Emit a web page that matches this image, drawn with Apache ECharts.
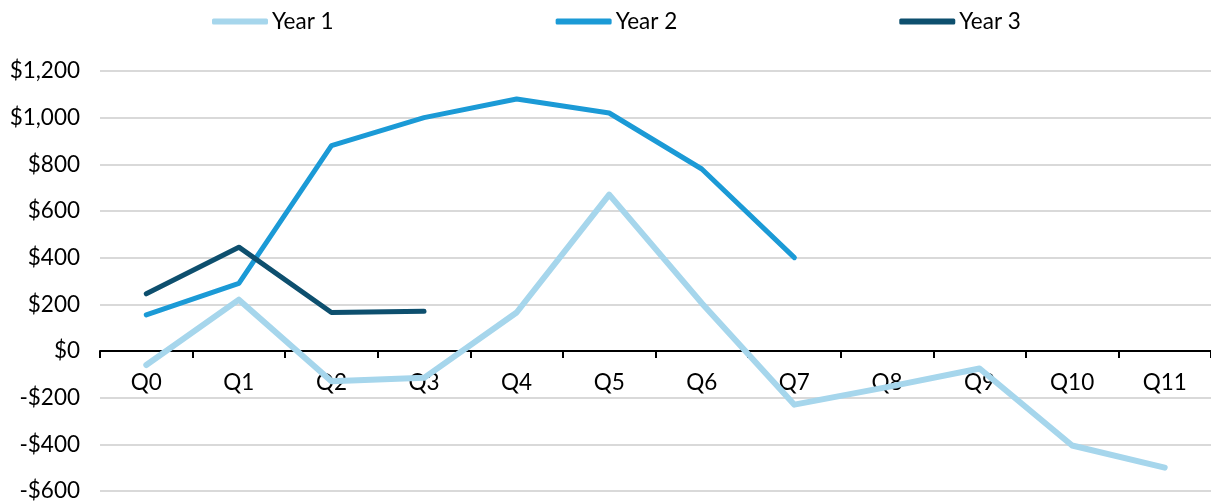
<!DOCTYPE html>
<html>
<head>
<meta charset="utf-8">
<script src="https://cdn.jsdelivr.net/npm/echarts@6/dist/echarts.min.js"></script>
<style>
html,body{margin:0;padding:0;background:#fff;}
#chart{width:1211px;height:504px;}
</style>
</head>
<body>
<div id="chart"></div>
<script>
const categories = ['Q0','Q1','Q2','Q3','Q4','Q5','Q6','Q7','Q8','Q9','Q10','Q11'];
const year1 = [-60, 220, -130, -115, 165, 670, 205, -230, -155, -75, -405, -500];
const year2 = [155, 290, 880, 1000, 1080, 1020, 780, 400];
const year3 = [245, 445, 165, 170];
const seriesNames = ['Year 1','Year 2','Year 3'];
const colors = ['#a6d6ec','#1b9ad6','#0d4f6e'];

function fmt(v){
  const s = '$' + Math.abs(v).toLocaleString('en-US');
  return v < 0 ? '-' + s : s;
}

const chart = echarts.init(document.getElementById('chart'));
const font = 'Lato, "Open Sans", sans-serif';
chart.setOption({
  animation:false,
  color: colors,
  textStyle:{fontFamily:font},
  legend:{
    top: 5,
    left: 207,
    itemGap: 222,
    itemWidth: 56,
    itemHeight: 6,
    icon: 'roundRect',
    textStyle:{fontSize:22.5, color:'#000', fontFamily:font, padding:[0,0,0,-1]},
    data: seriesNames
  },
  grid:{left:100, right:0, top:71, bottom:13, containLabel:false, outerBoundsMode:'none'},
  xAxis:{
    type:'category',
    data: categories,
    boundaryGap:true,
    offset: -140,
    axisLine:{onZero:false, lineStyle:{color:'#000', width:2}},
    axisTick:{show:true, inside:false, length:7, lineStyle:{color:'#000', width:2}},
    axisLabel:{color:'#000', fontSize:22.5, fontFamily:font, margin:20},
    splitLine:{show:false}
  },
  yAxis:{
    type:'value',
    min:-600, max:1200, interval:200,
    axisLine:{show:false},
    axisTick:{show:false},
    axisLabel:{color:'#000', fontSize:22.5, fontFamily:font, margin:20, formatter: fmt},
    splitLine:{lineStyle:{color:'#d9d9d9', width:2}}
  },
  series:[
    {name:'Year 1', type:'line', data: year1, symbol:'none', z:2,
     lineStyle:{width:6, color:colors[0], cap:'round', join:'round'}, itemStyle:{color:colors[0]}},
    {name:'Year 2', type:'line', data: year2, symbol:'none', z:3,
     lineStyle:{width:5, color:colors[1], cap:'round', join:'round'}, itemStyle:{color:colors[1]}},
    {name:'Year 3', type:'line', data: year3, symbol:'none', z:4,
     lineStyle:{width:5, color:colors[2], cap:'round', join:'round'}, itemStyle:{color:colors[2]}}
  ]
});
</script>
</body>
</html>
